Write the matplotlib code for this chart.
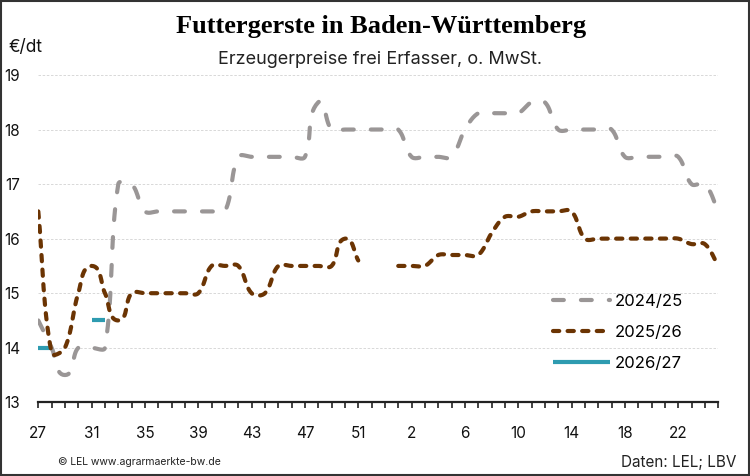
import numpy as np
import matplotlib.pyplot as plt
from matplotlib.patches import Rectangle

# Kalenderwochen des Wirtschaftsjahres (27..53, 1..25)
weeks = list(range(27, 54)) + list(range(1, 26))

# Futtergerste, EUR/dt
p_2024 = [14.5, 14.0, 13.5, 14.0, 14.0, 14.0, 17.0, 17.0, 16.5, 16.5,
          16.5, 16.5, 16.5, 16.5, 16.5, 17.5, 17.5, 17.5, 17.5, 17.5,
          17.5, 18.5, 18.0, 18.0, 18.0, 18.0, 18.0, 18.0, 17.5, 17.5,
          17.5, 17.5, 18.0, 18.3, 18.3, 18.3, 18.3, 18.5, 18.5, 18.0,
          18.0, 18.0, 18.0, 18.0, 17.5, 17.5, 17.5, 17.5, 17.5, 17.0,
          17.0, 16.5]
p_2025 = [16.5, 13.9, 14.0, 15.0, 15.5, 15.0, 14.5, 15.0, 15.0, 15.0,
          15.0, 15.0, 15.0, 15.5, 15.5, 15.5, 15.0, 15.0, 15.5, 15.5,
          15.5, 15.5, 15.5, 16.0, 15.6, None, None, 15.5, 15.5, 15.5,
          15.7, 15.7, 15.7, 15.7, 16.1, 16.4, 16.4, 16.5, 16.5, 16.5,
          16.5, 16.0, 16.0, 16.0, 16.0, 16.0, 16.0, 16.0, 16.0, 15.9,
          15.9, 15.5]
p_2026 = [14.0, 14.0, None, None, 14.5, 14.5] + [None] * 46

labels = ['2024/25', '2025/26', '2026/27']

c_grey = '#9a9696'
c_brown = '#6b3403'
c_teal = '#2e9bb0'

# pixel scale of the axes (for smoothing in screen space)
SX = 13.33
SY = 54.55


def runs(vals):
    out, cur = [], []
    for i, v in enumerate(vals):
        if v is None:
            if cur:
                out.append(cur)
            cur = []
        else:
            cur.append((i, v))
    if cur:
        out.append(cur)
    return out


def smooth(run, k=1/3., n=16):
    P = np.array(run, dtype=float) * [SX, SY]
    if len(P) < 3:
        return P[:, 0] / SX, P[:, 1] / SY
    pts = [P[0]]
    t = np.linspace(0, 1, n)[1:, None]
    for i in range(len(P) - 1):
        p0 = P[i - 1] if i > 0 else P[i]
        p1, p2 = P[i], P[i + 1]
        p3 = P[i + 2] if i + 2 < len(P) else P[i + 1]
        seg = np.linalg.norm(p2 - p1)
        t1 = (p2 - p0) / np.linalg.norm(p2 - p0)
        t2 = (p3 - p1) / np.linalg.norm(p3 - p1)
        c1 = p1 + t1 * seg * k
        c2 = p2 - t2 * seg * k
        b = (1-t)**3*p1 + 3*(1-t)**2*t*c1 + 3*(1-t)*t**2*c2 + t**3*p2
        pts.extend(b)
    pts = np.array(pts)
    return pts[:, 0] / SX, pts[:, 1] / SY


plt.rcParams['font.family'] = ['Inter', 'DejaVu Sans']

fig = plt.figure(figsize=(7.5, 4.76), dpi=100)
ax = fig.add_axes([38.3/750, 1 - 402.3/476, (718.2 - 38.3)/750, (402.3 - 75)/476])

lw = 3.0
styles = [
    (p_2024, c_grey, dict(linestyle=(0, (2.6, 4.1)), dash_capstyle='round'), 2),
    (p_2025, c_brown, dict(linestyle=(0, (1.5, 2.0)), dash_capstyle='round'), 3),
    (p_2026, c_teal, dict(linestyle='-', solid_capstyle='butt'), 1),
]
handles = []
for (vals, col, st, z), lab in zip(styles, labels):
    first = None
    for r in runs(vals):
        xs, ys = smooth(r)
        ln, = ax.plot(xs, ys, color=col, lw=lw, zorder=z, **st)
        if first is None:
            first = ln
    handles.append(first)

ax.set_xlim(0, len(weeks) - 1)
ax.set_ylim(13, 19)
ax.set_yticks(range(13, 20))
ax.set_xticks(range(len(weeks)))
ax.set_xticklabels([str(w) if i % 4 == 0 else '' for i, w in enumerate(weeks)],
                   fontsize=11)
ax.tick_params(axis='x', length=4, width=1.2, color='#222222', pad=13,
               labelcolor='#111111')
ax.tick_params(axis='y', length=0, pad=13, labelsize=11, labelcolor='#111111')
ax.grid(axis='y', color='#d2d2d2', lw=0.6, linestyle=(0, (3, 2)))
ax.set_axisbelow(True)
for s in ['top', 'right', 'left']:
    ax.spines[s].set_visible(False)
ax.spines['bottom'].set_linewidth(1.6)
ax.spines['bottom'].set_color('#222222')

ax.legend(handles, labels, loc='upper left', frameon=False, fontsize=12,
          bbox_to_anchor=(553/750, 1 - 294/476), bbox_transform=fig.transFigure,
          borderaxespad=0, borderpad=0, handlelength=3.4, handletextpad=0.3,
          labelspacing=0.95)

fig.text(381/750, 1 - 27/476, 'Futtergerste in Baden-Württemberg',
         ha='center', va='center', fontsize=19, fontweight='bold',
         family=['Liberation Serif', 'DejaVu Serif'])
fig.text(380/750, 1 - 60/476, 'Erzeugerpreise frei Erfasser, o. MwSt.',
         ha='center', va='center', fontsize=13, color='#222222')
fig.text(9/750, 1 - 47/476, '€/dt', ha='left', va='center', fontsize=12.5,
         color='#111111')
fig.text(58/750, 1 - 462/476, '© LEL www.agrarmaerkte-bw.de', ha='left',
         va='center', fontsize=7.5, color='#222222')
fig.text(736/750, 1 - 462/476, 'Daten: LEL; LBV', ha='right', va='center',
         fontsize=11, color='#222222')

fig.patches.append(Rectangle((0.001, 0.0015), 0.997, 0.996, transform=fig.transFigure,
                             fill=False, edgecolor='#333333', lw=1.5))

fig.savefig('out.png', dpi=100)
